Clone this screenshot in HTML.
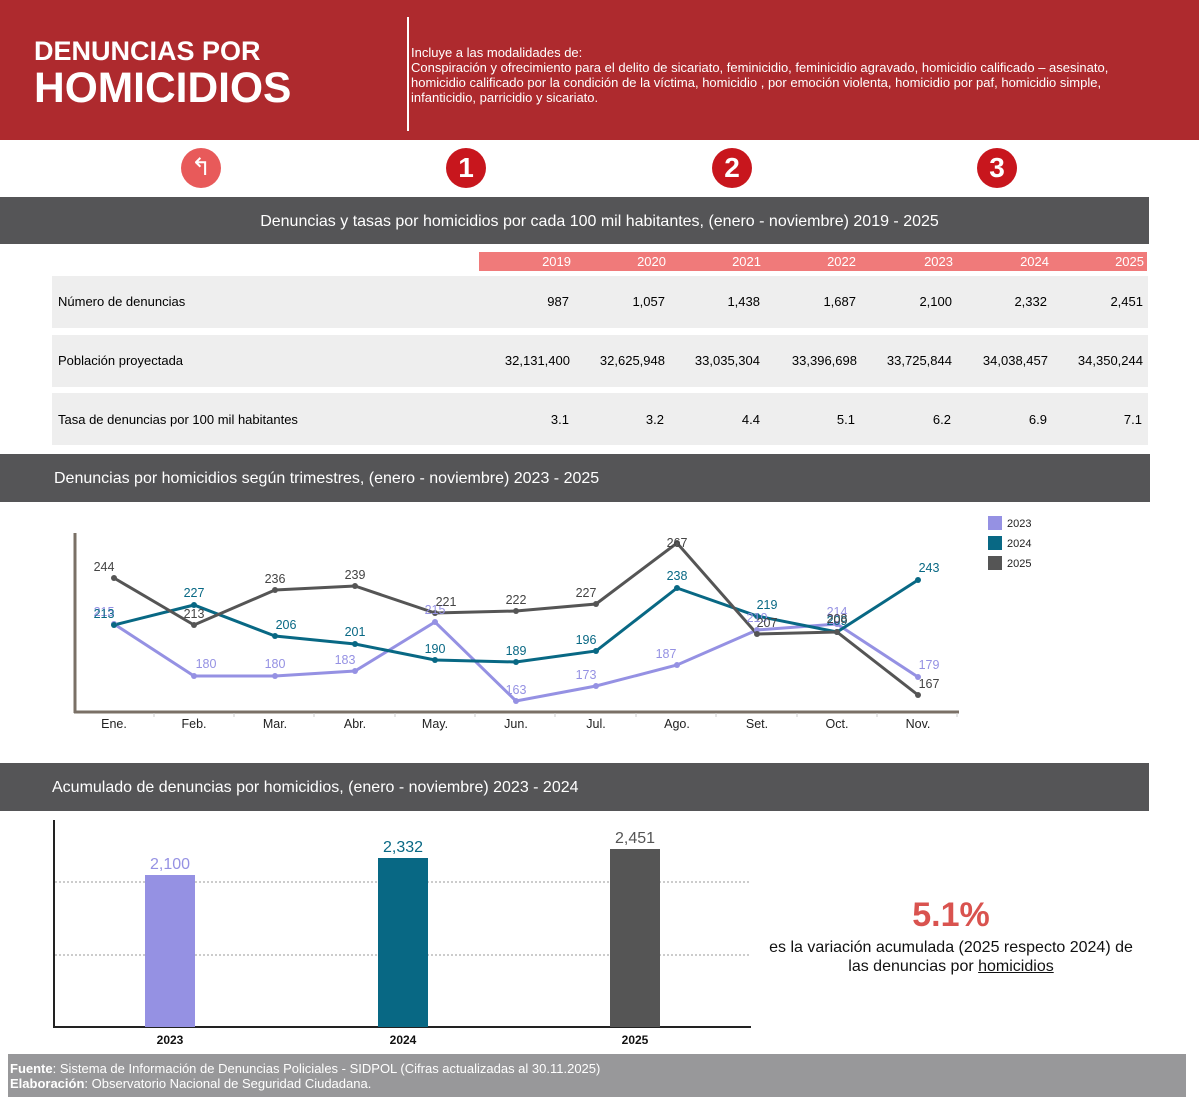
<!DOCTYPE html>
<html><head><meta charset="utf-8"><style>
body{margin:0;width:1199px;height:1099px;background:#fff;font-family:"Liberation Sans",Arial,sans-serif;position:relative;overflow:hidden}
.abs{position:absolute}
.band{position:absolute;background:#555557;color:#fff;font-size:16px}
</style></head><body>
<div class="abs" style="left:0;top:0;width:1199px;height:140px;background:#ae2a2e"></div>
<div class="abs" style="left:34px;top:36px;color:#fff;font-weight:bold;font-size:27px;line-height:30px">DENUNCIAS POR</div>
<div class="abs" style="left:34px;top:66px;color:#fff;font-weight:bold;font-size:42.5px;line-height:46px">HOMICIDIOS</div>
<div class="abs" style="left:407px;top:17px;width:2px;height:114px;background:#fff"></div>
<div class="abs" style="left:411px;top:45px;width:740px;color:#fff;font-size:13px;line-height:15px">Incluye a las modalidades de:<br>Conspiración y ofrecimiento para el delito de sicariato, feminicidio, feminicidio agravado, homicidio calificado – asesinato, homicidio calificado por la condición de la víctima, homicidio , por emoción violenta, homicidio por paf, homicidio simple, infanticidio, parricidio y sicariato.</div>
<div class="abs" style="left:181px;top:148px;width:40px;height:40px;border-radius:50%;background:#e85a5a;color:#fff;font-size:24px;text-align:center;line-height:40px">↰</div>
<div class="abs" style="left:446px;top:148px;width:40px;height:40px;border-radius:50%;background:#c8161d;color:#fff;font-size:28px;font-weight:bold;text-align:center;line-height:40px">1</div>
<div class="abs" style="left:712px;top:148px;width:40px;height:40px;border-radius:50%;background:#c8161d;color:#fff;font-size:28px;font-weight:bold;text-align:center;line-height:40px">2</div>
<div class="abs" style="left:977px;top:148px;width:40px;height:40px;border-radius:50%;background:#c8161d;color:#fff;font-size:28px;font-weight:bold;text-align:center;line-height:40px">3</div>
<div class="band" style="left:0;top:197px;width:1149px;height:47px;line-height:49px"><div style="position:absolute;left:0;width:1199px;text-align:center">Denuncias y tasas por homicidios por cada 100 mil habitantes, (enero - noviembre) 2019 - 2025</div></div>
<div class="abs" style="left:479px;top:252px;width:668px;height:19px;background:#f07a7a"></div>
<div class="abs" style="left:479px;top:252px;width:668px;font-size:13px;color:#fff;line-height:19px">
<span class="abs" style="left:0;width:92px;text-align:right">2019</span><span class="abs" style="left:95px;width:92px;text-align:right">2020</span><span class="abs" style="left:190px;width:92px;text-align:right">2021</span><span class="abs" style="left:285px;width:92px;text-align:right">2022</span><span class="abs" style="left:380px;width:94px;text-align:right">2023</span><span class="abs" style="left:476px;width:94px;text-align:right">2024</span><span class="abs" style="left:570px;width:95px;text-align:right">2025</span></div>
<div class="abs" style="left:52px;top:276px;width:1096px;height:52px;background:#eeeeee"></div>
<div class="abs" style="left:52px;top:335px;width:1096px;height:52px;background:#eeeeee"></div>
<div class="abs" style="left:52px;top:393px;width:1096px;height:52px;background:#eeeeee"></div>
<div class="abs" style="left:58px;top:294px;font-size:13px">Número de denuncias</div>
<div class="abs" style="left:58px;top:353px;font-size:13px">Población proyectada</div>
<div class="abs" style="left:58px;top:412px;font-size:13px">Tasa de denuncias por 100 mil habitantes</div>
<div class="abs" style="left:479px;top:294px;width:668px;font-size:13px">
<span class="abs" style="left:0;width:90px;text-align:right">987</span><span class="abs" style="left:95px;width:91px;text-align:right">1,057</span><span class="abs" style="left:190px;width:91px;text-align:right">1,438</span><span class="abs" style="left:285px;width:92px;text-align:right">1,687</span><span class="abs" style="left:380px;width:93px;text-align:right">2,100</span><span class="abs" style="left:476px;width:92px;text-align:right">2,332</span><span class="abs" style="left:570px;width:94px;text-align:right">2,451</span></div>
<div class="abs" style="left:479px;top:353px;width:668px;font-size:13px">
<span class="abs" style="left:0;width:91px;text-align:right">32,131,400</span><span class="abs" style="left:95px;width:91px;text-align:right">32,625,948</span><span class="abs" style="left:190px;width:91px;text-align:right">33,035,304</span><span class="abs" style="left:285px;width:93px;text-align:right">33,396,698</span><span class="abs" style="left:380px;width:93px;text-align:right">33,725,844</span><span class="abs" style="left:476px;width:93px;text-align:right">34,038,457</span><span class="abs" style="left:570px;width:94px;text-align:right">34,350,244</span></div>
<div class="abs" style="left:479px;top:412px;width:668px;font-size:13px">
<span class="abs" style="left:0;width:90px;text-align:right">3.1</span><span class="abs" style="left:95px;width:90px;text-align:right">3.2</span><span class="abs" style="left:190px;width:91px;text-align:right">4.4</span><span class="abs" style="left:285px;width:91px;text-align:right">5.1</span><span class="abs" style="left:380px;width:92px;text-align:right">6.2</span><span class="abs" style="left:476px;width:92px;text-align:right">6.9</span><span class="abs" style="left:570px;width:93px;text-align:right">7.1</span></div>
<div class="band" style="left:0;top:454px;width:1150px;height:48px;line-height:50px"><span style="padding-left:54px">Denuncias por homicidios según trimestres, (enero - noviembre) 2023 - 2025</span></div>
<svg class="abs" style="left:0;top:0" width="1199" height="1099" font-family="Liberation Sans, Arial, sans-serif">
<g stroke="#7a7066" stroke-width="3"><line x1="75" y1="533" x2="75" y2="713"/><line x1="74" y1="712" x2="959" y2="712"/></g>
<g stroke="#ccc" stroke-width="1"><line x1="154" y1="713" x2="154" y2="717"/><line x1="234" y1="713" x2="234" y2="717"/><line x1="314" y1="713" x2="314" y2="717"/><line x1="395" y1="713" x2="395" y2="717"/><line x1="475" y1="713" x2="475" y2="717"/><line x1="555" y1="713" x2="555" y2="717"/><line x1="636" y1="713" x2="636" y2="717"/><line x1="716" y1="713" x2="716" y2="717"/><line x1="797" y1="713" x2="797" y2="717"/><line x1="877" y1="713" x2="877" y2="717"/><line x1="957" y1="713" x2="957" y2="717"/></g>
<g font-size="12.5" text-anchor="middle" fill="#222"><text x="114" y="728">Ene.</text><text x="194" y="728">Feb.</text><text x="275" y="728">Mar.</text><text x="355" y="728">Abr.</text><text x="435" y="728">May.</text><text x="516" y="728">Jun.</text><text x="596" y="728">Jul.</text><text x="677" y="728">Ago.</text><text x="757" y="728">Set.</text><text x="837" y="728">Oct.</text><text x="918" y="728">Nov.</text></g>
<polyline fill="none" stroke="#9591e3" stroke-width="3" points="114,624 194,676 275,676 355,671 435,622 516,701 596,686 677,665 757,630 837,624 918,677"/>
<polyline fill="none" stroke="#086884" stroke-width="3" points="114,625 194,605 275,636 355,644 435,660 516,662 596,651 677,588 757,616 837,632 918,580"/>
<polyline fill="none" stroke="#555555" stroke-width="3" points="114,578 194,625 275,590 355,586 435,613 516,611 596,604 677,543 757,634 837,632 918,695"/>
<g fill="#9591e3"><circle cx="114" cy="624" r="3"/><circle cx="194" cy="676" r="3"/><circle cx="275" cy="676" r="3"/><circle cx="355" cy="671" r="3"/><circle cx="435" cy="622" r="3"/><circle cx="516" cy="701" r="3"/><circle cx="596" cy="686" r="3"/><circle cx="677" cy="665" r="3"/><circle cx="757" cy="630" r="3"/><circle cx="837" cy="624" r="3"/><circle cx="918" cy="677" r="3"/></g>
<g fill="#086884"><circle cx="114" cy="625" r="3"/><circle cx="194" cy="605" r="3"/><circle cx="275" cy="636" r="3"/><circle cx="355" cy="644" r="3"/><circle cx="435" cy="660" r="3"/><circle cx="516" cy="662" r="3"/><circle cx="596" cy="651" r="3"/><circle cx="677" cy="588" r="3"/><circle cx="757" cy="616" r="3"/><circle cx="837" cy="632" r="3"/><circle cx="918" cy="580" r="3"/></g>
<g fill="#555"><circle cx="114" cy="578" r="3"/><circle cx="194" cy="625" r="3"/><circle cx="275" cy="590" r="3"/><circle cx="355" cy="586" r="3"/><circle cx="435" cy="613" r="3"/><circle cx="516" cy="611" r="3"/><circle cx="596" cy="604" r="3"/><circle cx="677" cy="543" r="3"/><circle cx="757" cy="634" r="3"/><circle cx="837" cy="632" r="3"/><circle cx="918" cy="695" r="3"/></g>
<g font-size="12.5" text-anchor="middle" fill="#9591e3"><text x="104" y="616">215</text><text x="206" y="668">180</text><text x="275" y="668">180</text><text x="345" y="664">183</text><text x="435" y="614">215</text><text x="516" y="694">163</text><text x="586" y="679">173</text><text x="666" y="658">187</text><text x="757" y="622">210</text><text x="837" y="616">214</text><text x="929" y="669">179</text></g>
<g font-size="12.5" text-anchor="middle" fill="#086884"><text x="104" y="618">213</text><text x="194" y="597">227</text><text x="286" y="629">206</text><text x="355" y="636">201</text><text x="435" y="653">190</text><text x="516" y="655">189</text><text x="586" y="644">196</text><text x="677" y="580">238</text><text x="767" y="609">219</text><text x="837" y="625">209</text><text x="929" y="572">243</text></g>
<g font-size="12.5" text-anchor="middle" fill="#444"><text x="104" y="571">244</text><text x="194" y="618">213</text><text x="275" y="583">236</text><text x="355" y="579">239</text><text x="446" y="606">221</text><text x="516" y="604">222</text><text x="586" y="597">227</text><text x="677" y="547">267</text><text x="767" y="627">207</text><text x="837" y="623">208</text><text x="929" y="688">167</text></g>
<rect x="988" y="516" width="14" height="14" fill="#9591e3"/><rect x="988" y="536" width="14" height="14" fill="#086884"/><rect x="988" y="556" width="14" height="14" fill="#555"/>
<g font-size="11" fill="#222"><text x="1007" y="527">2023</text><text x="1007" y="547">2024</text><text x="1007" y="567">2025</text></g>
<line x1="55" y1="882" x2="751" y2="882" stroke="#999" stroke-dasharray="2,2"/>
<line x1="55" y1="955" x2="751" y2="955" stroke="#999" stroke-dasharray="2,2"/>
<line x1="54" y1="820" x2="54" y2="1028" stroke="#222" stroke-width="2"/>
<line x1="53" y1="1027" x2="751" y2="1027" stroke="#222" stroke-width="2"/>
<rect x="145" y="875" width="50" height="152" fill="#9591e3"/>
<rect x="378" y="858" width="50" height="169" fill="#086884"/>
<rect x="610" y="849" width="50" height="178" fill="#555"/>
<text x="170" y="869" font-size="16" text-anchor="middle" fill="#9591e3">2,100</text>
<text x="403" y="852" font-size="16" text-anchor="middle" fill="#086884">2,332</text>
<text x="635" y="843" font-size="16" text-anchor="middle" fill="#555">2,451</text>
<g font-size="12" font-weight="bold" text-anchor="middle" fill="#111"><text x="170" y="1044">2023</text><text x="403" y="1044">2024</text><text x="635" y="1044">2025</text></g>
</svg>
<div class="band" style="left:0;top:763px;width:1149px;height:48px;line-height:50px"><span style="padding-left:52px">Acumulado de denuncias por homicidios, (enero - noviembre) 2023 - 2024</span></div>
<div class="abs" style="left:760px;top:895px;width:382px;text-align:center;color:#d9534f;font-weight:bold;font-size:34px;line-height:40px">5.1%</div>
<div class="abs" style="left:751px;top:938px;width:400px;text-align:center;color:#111;font-size:16px;line-height:19px">es la variación acumulada (2025 respecto 2024) de<br>las denuncias por <u>homicidios</u></div>
<div class="abs" style="left:8px;top:1054px;width:1178px;height:43px;background:#98989a;color:#fff;font-size:13px;line-height:15px;padding-top:7px;box-sizing:border-box;padding-left:2px"><b>Fuente</b>: Sistema de Información de Denuncias Policiales - SIDPOL (Cifras actualizadas al 30.11.2025)<br><b>Elaboración</b>: Observatorio Nacional de Seguridad Ciudadana.</div>
</body></html>
